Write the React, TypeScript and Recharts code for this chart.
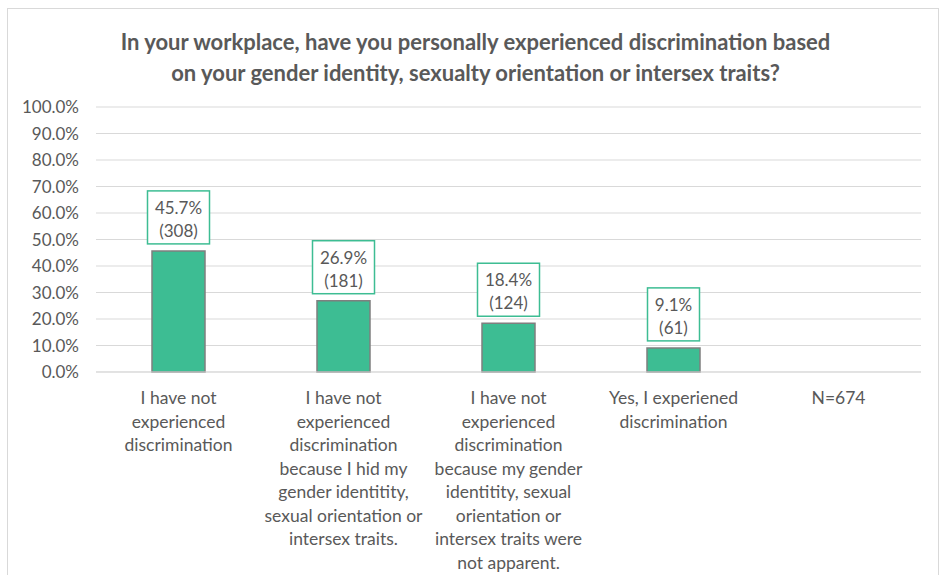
import React from 'react';
import { BarChart, Bar, XAxis, YAxis, CartesianGrid, LabelList } from 'recharts';

const categories = [
  'I have not\nexperienced\ndiscrimination',
  'I have not\nexperienced\ndiscrimination\nbecause I hid my\ngender identitity,\nsexual orientation or\nintersex traits.',
  'I have not\nexperienced\ndiscrimination\nbecause my gender\nidentitity, sexual\norientation or\nintersex traits were\nnot apparent.',
  'Yes, I experiened\ndiscrimination',
  'N=674',
];
const shares: (number | null)[] = [0.457, 0.269, 0.184, 0.091, null];
const counts: (number | null)[] = [308, 181, 124, 61, null];
const yTicks = [0, 0.1, 0.2, 0.3, 0.4, 0.5, 0.6, 0.7, 0.8, 0.9, 1.0];
const title = [
  'In your workplace, have you personally experienced discrimination based',
  'on your gender identity, sexualty orientation or intersex traits?',
];

const data = categories.map((c, i) => ({ name: c, share: shares[i], count: counts[i] }));

const FONT = 'Lato, "Open Sans", sans-serif';
const TEXT = '#595959';
const GREEN = '#3dbd93';

const pct = (v: number) => (v * 100).toFixed(1) + '%';

const XTick = (props: any) => {
  const { x, y, payload } = props;
  const lines = String(payload.value).split('\n');
  return (
    <text x={x} y={y + 30} textAnchor="middle" fill={TEXT} fontFamily={FONT} fontSize={17.5}>
      {lines.map((l, i) => (
        <tspan key={i} x={x} dy={i === 0 ? 0 : 23.5}>{l}</tspan>
      ))}
    </text>
  );
};

const BoxLabel = (props: any) => {
  const { x, y, width, value, index } = props;
  if (value == null) return null;
  const l1 = pct(value);
  const l2 = '(' + counts[index] + ')';
  const n = Math.max(l1.length, l2.length);
  const w = n * 10 + 12;
  const h = 53;
  const cx = x + width / 2;
  const bottom = y - 7;
  return (
    <g>
      <rect x={cx - w / 2} y={bottom - h} width={w} height={h} fill="#fff" stroke={GREEN} strokeWidth={1.5} />
      <text x={cx} y={bottom - h + 23} textAnchor="middle" fill={TEXT} fontFamily={FONT} fontSize={17}>{l1}</text>
      <text x={cx} y={bottom - h + 46} textAnchor="middle" fill={TEXT} fontFamily={FONT} fontSize={17}>{l2}</text>
    </g>
  );
};

export default function App() {
  return (
    <div style={{ position: 'absolute', left: 0, top: 0, width: 941, height: 575, overflow: 'hidden', background: '#fff' }}>
      <div style={{ position: 'absolute', left: 7, top: 8, width: 930, height: 620, border: '1px solid #d9d9d9' }} />
      <div
        style={{
          position: 'absolute', left: 0, top: 26, width: 951, textAlign: 'center',
          fontFamily: FONT, fontWeight: 700, fontSize: 22, lineHeight: '31px', color: TEXT,
        }}
      >
        {title.map((t, i) => (<div key={i}>{t}</div>))}
      </div>
      <div style={{ position: 'absolute', left: 0, top: 0 }}>
        <BarChart width={941} height={575} data={data} margin={{ top: 107, right: 20, left: 6, bottom: 0 }}>
          <CartesianGrid vertical={false} stroke="#d9d9d9" strokeWidth={1} />
          <XAxis
            dataKey="name"
            height={203}
            interval={0}
            tickLine={false}
            axisLine={{ stroke: '#d9d9d9' }}
            tickSize={0}
            tick={<XTick />}
          />
          <YAxis
            width={90}
            domain={[0, 1]}
            ticks={yTicks}
            tickFormatter={pct}
            axisLine={false}
            tickLine={false}
            tickSize={0}
            tickMargin={17}
            tick={{ fill: TEXT, fontFamily: FONT, fontSize: 17 }}
          />
          <Bar dataKey="share" fill={GREEN} stroke="#7f7f7f" strokeWidth={1.5} barSize={53} isAnimationActive={false}>
            <LabelList dataKey="share" content={<BoxLabel />} />
          </Bar>
        </BarChart>
      </div>
    </div>
  );
}
